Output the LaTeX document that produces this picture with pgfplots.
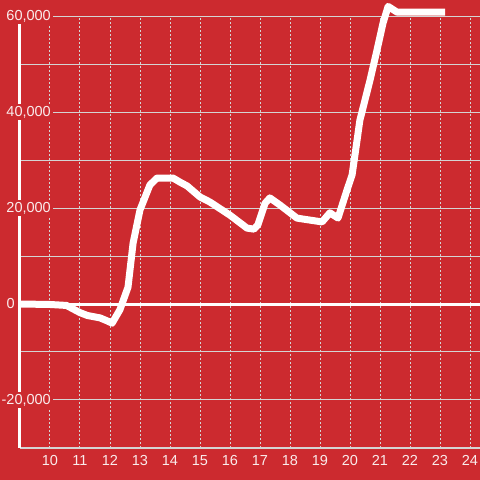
\documentclass[border=0pt]{standalone}
\usepackage{fontspec}
\setmainfont{Liberation Sans}
\usepackage{pgfplots}
\pgfplotsset{compat=1.18}
\definecolor{bg}{RGB}{204,42,47}
\definecolor{gridc}{RGB}{212,212,212}
\definecolor{txt}{RGB}{250,236,236}
\begin{document}
\begin{tikzpicture}[x=1pt,y=1pt]
\fill[bg] (0,0) rectangle (480,480);
\useasboundingbox (0,0) rectangle (480,480);
\begin{axis}[
  at={(20pt,32pt)}, anchor=south west,
  scale only axis, width=460pt, height=432pt,
  xmin=9, xmax=24.3333, ymin=-30000, ymax=60000,
  clip=false,
  scaled y ticks=false, scaled x ticks=false,
  axis x line=bottom, axis y line=left,
  axis line style={-},
  x axis line style={draw=gridc, line width=1.5pt},
  y axis line style={draw=white, line width=3pt},
  major tick length=0pt, tick style={draw=none},
  xtick={10,...,24},
  /pgf/number format/assume math mode=true,
  xmajorgrids,
  major x grid style={draw=gridc, line width=1pt, dash pattern=on 2pt off 2pt},
  ytick={-20000,20000,40000,60000},
  yticklabels={{-20,000},{20,000},{40,000},{60,000}},
  minor ytick={-10000,10000,30000,50000},
  ymajorgrids, yminorgrids,
  major y grid style={draw=gridc, line width=1pt},
  minor y grid style={draw=gridc, line width=1pt},
  tick label style={font=\fontsize{14.5}{16}\selectfont, text=txt},
  yticklabel style={anchor=east, xshift=33pt, fill=bg, inner sep=2pt},
  xticklabel style={anchor=north, inner sep=2pt, yshift=-5pt},
  extra y ticks={0},
  extra y tick labels={0},
  extra y tick style={major y grid style={draw=white, line width=3pt}, yticklabel style={xshift=-36pt, fill=none}},
]
\addplot[white, line width=7pt, line join=round] coordinates {
(9.0,0) (9.5,-50) (10.0,-100) (10.55,-300) (11.0,-1800) (11.25,-2400) (11.67,-2900) (11.9,-3500) (12.07,-4000) (12.33,-1200) (12.6,3500) (12.77,12700) (13.0,19600) (13.33,24800) (13.57,26250) (14.1,26250) (14.33,25400) (14.57,24600) (15.0,22300) (15.33,21250) (16.0,18500) (16.57,15800) (16.8,15600) (16.93,16500) (17.17,21000) (17.33,22100) (17.67,20600) (18.23,17900) (18.43,17700) (19.07,17100) (19.33,19000) (19.6,17900) (19.9,23750) (20.07,26900) (20.33,38300) (20.67,46700) (20.9,52900) (21.1,58500) (21.27,62000) (21.57,60800) (23.17,60800)
};
\end{axis}
\end{tikzpicture}
\end{document}
